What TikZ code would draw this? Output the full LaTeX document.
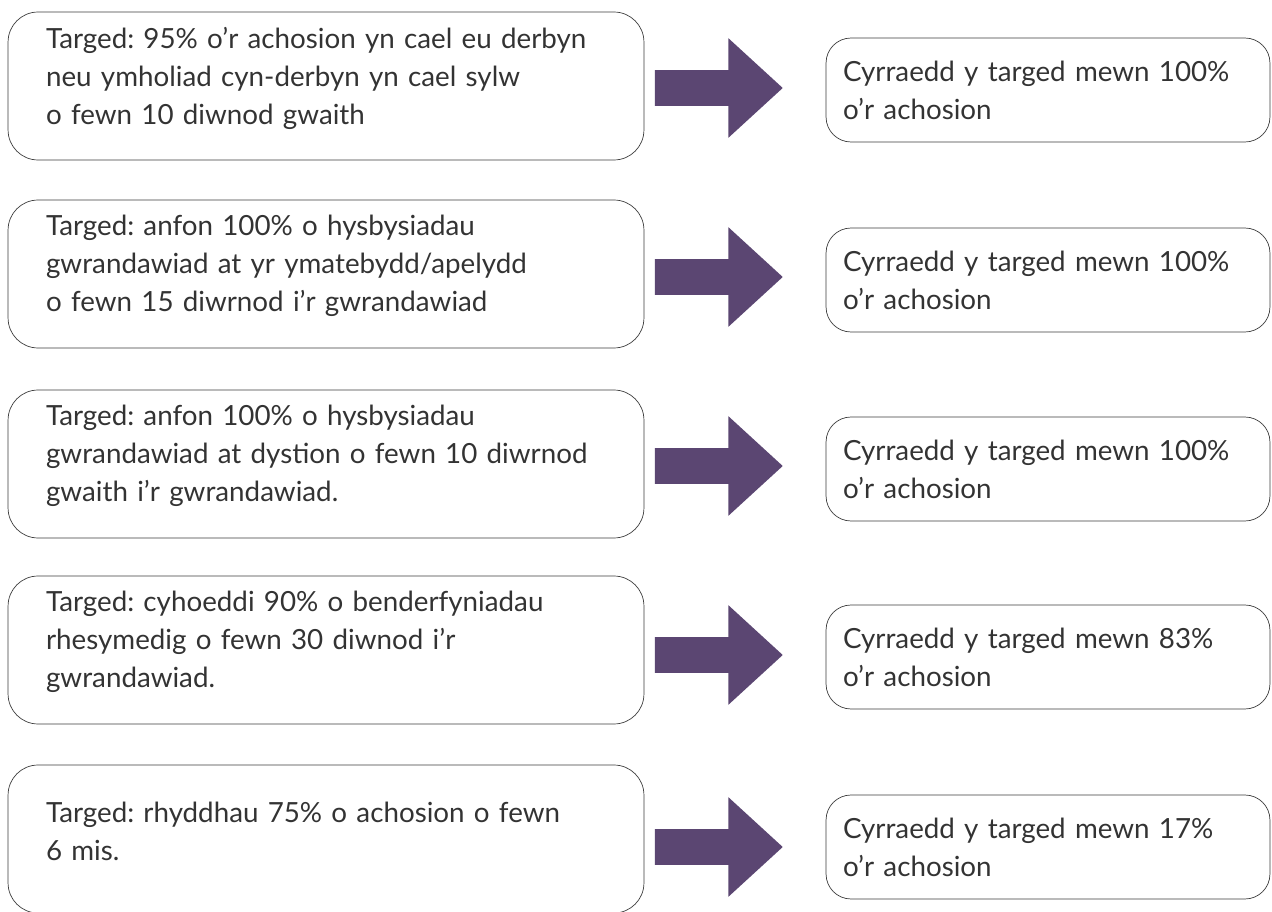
\documentclass[tikz,border=0pt]{standalone}
\usepackage{fontspec}
\setmainfont{Lato}
\usetikzlibrary{shapes.arrows}
\definecolor{arrowpurple}{RGB}{91,70,114}
\definecolor{boxline}{RGB}{60,60,60}

\begin{document}
\frenchspacing
\begin{tikzpicture}[x=0.02cm,y=-0.02cm,
    target/.style ={draw=boxline, rounded corners=0.6cm, align=left,
        text width=11.2cm, inner xsep=0.76cm, minimum height=2.96cm,
        font=\fontsize{15.8}{21.6}\selectfont, text=black!80,
        execute at end node={\vspace*{0.32cm}}},
    result/.style ={draw=boxline, rounded corners=0.5cm, align=left,
        text width=8.2cm, inner xsep=0.34cm, minimum height=2.08cm,
        font=\fontsize{15.8}{21.6}\selectfont, text=black!80},
    bigarrow/.style ={single arrow, fill=arrowpurple, draw=none,
        minimum height=2.56cm, minimum width=1.98cm, inner xsep=0pt,
        inner ysep=0.35cm, single arrow head extend=0.64cm,
        single arrow tip angle=85}]
   \useasboundingbox (0,0) rectangle (1272,912);
   % targets
   \node[target] (T1) at (326,86)  {Targed: 95\% o’r achosion yn cael eu derbyn\\neu ymholiad cyn-derbyn yn cael sylw\\o fewn 10 diwnod gwaith};
   \node[target] (T2) at (326,274) {Targed: anfon 100\% o hysbysiadau\\gwrandawiad at yr ymatebydd/apelydd\\o fewn 15 diwrnod i’r gwrandawiad};
   \node[target] (T3) at (326,464) {Targed: anfon 100\% o hysbysiadau\\gwrandawiad at dystion o fewn 10 diwrnod\\gwaith i’r gwrandawiad.};
   \node[target] (T4) at (326,650) {Targed: cyhoeddi 90\% o benderfyniadau\\rhesymedig o fewn 30 diwnod i’r\\gwrandawiad.};
   \node[target] (T5) at (326,839) {Targed: rhyddhau 75\% o achosion o fewn\\6 mis.};
   % arrows
   \node[bigarrow] (A1) at (709,88)  {};
   \node[bigarrow] (A2) at (709,277) {};
   \node[bigarrow] (A3) at (709,466) {};
   \node[bigarrow] (A4) at (709,655) {};
   \node[bigarrow] (A5) at (709,847) {};
   % results
   \node[result] (R1) at (1048,90)  {Cyrraedd y targed mewn 100\%\\o’r achosion};
   \node[result] (R2) at (1048,280) {Cyrraedd y targed mewn 100\%\\o’r achosion};
   \node[result] (R3) at (1048,469) {Cyrraedd y targed mewn 100\%\\o’r achosion};
   \node[result] (R4) at (1048,657) {Cyrraedd y targed mewn 83\%\\o’r achosion};
   \node[result] (R5) at (1048,847) {Cyrraedd y targed mewn 17\%\\o’r achosion};
\end{tikzpicture}
\end{document}
